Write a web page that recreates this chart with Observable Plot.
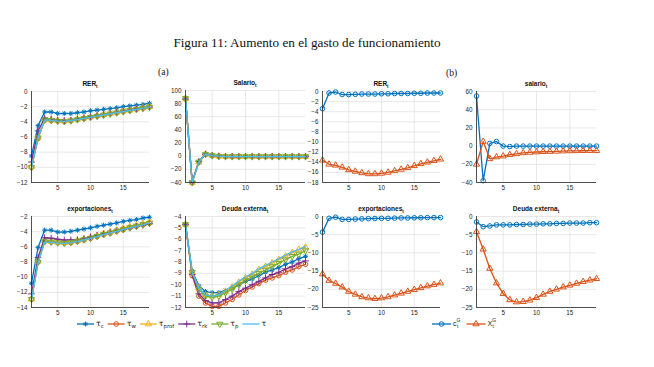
<!DOCTYPE html>
<html><head><meta charset="utf-8">
<script src="https://cdn.jsdelivr.net/npm/d3@7"></script>
<script src="https://cdn.jsdelivr.net/npm/@observablehq/plot@0.6"></script>
<style>
body{margin:0;background:#fff;}
#page{position:relative;width:654px;height:367px;background:#fff;overflow:hidden;font-family:"Liberation Sans",Arial,sans-serif;}
#page svg{position:absolute;}
</style></head><body><div id="page"></div>
<script>
// ---------- data ----------
const periods = [1,2,3,4,5,6,7,8,9,10,11,12,13,14,15,16,17,18,19];
const xTicks = [5,10,15];

// panel (a) series: tau_c, tau_w, tau_prof, tau_rk, tau_p, tau
const seriesA = ["τc","τw","τprof","τrk","τp","τ"];
const subA = ["c","w","prof","rk","p",""];
const colorsA = ["#0072BD","#D95319","#EDB120","#7E2F8E","#77AC30","#4DBEEE"];

const rerA_tc   = [-8.5,-4.5,-2.7,-2.7,-2.9,-2.9,-2.9,-2.8,-2.7,-2.55,-2.45,-2.35,-2.25,-2.15,-2.0,-1.9,-1.8,-1.7,-1.55];
const rerA_tw   = [-10.0,-6.2,-3.8,-3.8,-3.9,-3.95,-3.85,-3.7,-3.55,-3.4,-3.25,-3.1,-2.95,-2.8,-2.65,-2.5,-2.35,-2.2,-2.05];
const rerA_tprof= [-9.9,-6.0,-3.7,-3.75,-3.85,-3.9,-3.8,-3.65,-3.5,-3.35,-3.2,-3.05,-2.9,-2.75,-2.6,-2.45,-2.3,-2.15,-2.0];
const rerA_trk  = [-9.3,-5.2,-3.5,-3.6,-3.75,-3.85,-3.8,-3.65,-3.5,-3.35,-3.2,-3.05,-2.9,-2.75,-2.6,-2.45,-2.3,-2.2,-2.05];
const rerA_tp   = [-10.0,-6.1,-3.75,-3.8,-3.9,-3.95,-3.85,-3.7,-3.55,-3.4,-3.25,-3.1,-2.95,-2.8,-2.65,-2.5,-2.35,-2.2,-2.05];
const rerA_t    = [-10.0,-6.1,-3.75,-3.8,-3.9,-3.95,-3.85,-3.7,-3.55,-3.4,-3.25,-3.1,-2.95,-2.8,-2.65,-2.5,-2.35,-2.2,-2.05];

const salA_tc   = [88,-39,-8,3,1,0,-0.5,-0.5,-0.5,-0.5,-0.5,-0.5,-0.5,-0.5,-0.5,-0.5,-0.5,-0.5,-0.5];
const salA_tw   = [87,-40,-9,3,1,0,-0.5,-0.5,-0.5,-0.5,-0.5,-0.5,-0.5,-0.5,-0.5,-0.5,-0.5,-0.5,-0.5];
const salA_tprof= [88,-40,-9,3,1,0,-0.5,-0.5,-0.5,-0.5,-0.5,-0.5,-0.5,-0.5,-0.5,-0.5,-0.5,-0.5,-0.5];
const salA_trk  = [87,-39,-8,3,1,0,-0.5,-0.5,-0.5,-0.5,-0.5,-0.5,-0.5,-0.5,-0.5,-0.5,-0.5,-0.5,-0.5];
const salA_tp   = [88,-40,-9,3,1,0,-0.5,-0.5,-0.5,-0.5,-0.5,-0.5,-0.5,-0.5,-0.5,-0.5,-0.5,-0.5,-0.5];
const salA_t    = [88,-40,-9,3,1,0,-0.5,-0.5,-0.5,-0.5,-0.5,-0.5,-0.5,-0.5,-0.5,-0.5,-0.5,-0.5,-0.5];

const expA_tc   = [-10.8,-6.1,-3.8,-3.8,-4.05,-4.05,-3.95,-3.8,-3.65,-3.5,-3.3,-3.15,-3.0,-2.85,-2.65,-2.5,-2.4,-2.2,-2.1];
const expA_tw   = [-12.9,-8.0,-5.3,-5.35,-5.45,-5.5,-5.45,-5.3,-5.1,-4.9,-4.65,-4.4,-4.2,-3.95,-3.75,-3.5,-3.3,-3.1,-2.9];
const expA_tprof= [-12.9,-7.9,-5.2,-5.3,-5.4,-5.45,-5.35,-5.2,-5.0,-4.75,-4.5,-4.25,-4.0,-3.8,-3.55,-3.35,-3.15,-2.95,-2.75];
const expA_trk  = [-12.2,-7.4,-4.8,-4.85,-5.0,-5.1,-5.1,-5.05,-4.9,-4.7,-4.5,-4.3,-4.1,-3.9,-3.7,-3.5,-3.3,-3.15,-2.95];
const expA_tp   = [-12.9,-8.0,-5.3,-5.35,-5.45,-5.5,-5.4,-5.25,-5.05,-4.85,-4.6,-4.35,-4.15,-3.9,-3.7,-3.45,-3.25,-3.05,-2.85];
const expA_t    = [-13.0,-8.1,-5.4,-5.4,-5.5,-5.55,-5.45,-5.3,-5.1,-4.9,-4.65,-4.4,-4.15,-3.95,-3.7,-3.5,-3.3,-3.1,-2.85];

const deuA_tc   = [-4.7,-8.8,-10.1,-10.6,-10.7,-10.7,-10.5,-10.3,-10.0,-9.7,-9.5,-9.2,-8.9,-8.7,-8.5,-8.2,-8.0,-7.7,-7.5];
const deuA_tw   = [-4.7,-9.2,-11.0,-11.6,-11.9,-11.9,-11.6,-11.3,-10.9,-10.5,-10.2,-9.9,-9.6,-9.4,-9.2,-8.9,-8.7,-8.4,-8.2];
const deuA_tprof= [-4.7,-8.9,-10.3,-10.9,-11.0,-10.9,-10.6,-10.2,-9.8,-9.4,-9.1,-8.7,-8.4,-8.1,-7.8,-7.5,-7.2,-6.9,-6.7];
const deuA_trk  = [-4.7,-9.1,-10.8,-11.4,-11.6,-11.6,-11.3,-11.0,-10.6,-10.3,-10.0,-9.7,-9.4,-9.1,-8.9,-8.6,-8.4,-8.1,-7.9];
const deuA_tp   = [-4.7,-8.9,-10.4,-11.0,-11.1,-11.0,-10.7,-10.4,-10.0,-9.6,-9.3,-9.0,-8.7,-8.4,-8.1,-7.8,-7.5,-7.3,-7.0];
const deuA_t    = [-4.7,-8.9,-10.3,-10.9,-11.0,-10.9,-10.5,-10.1,-9.7,-9.3,-9.0,-8.6,-8.3,-8.0,-7.7,-7.4,-7.1,-6.9,-6.6];

// panel (b) series: c^G, X^G
const seriesB = ["c","X"];
const colorsB = ["#0072BD","#D95319"];

const rerB_c = [-3.4,-0.3,-0.1,-0.6,-0.6,-0.55,-0.5,-0.5,-0.5,-0.45,-0.45,-0.4,-0.4,-0.4,-0.35,-0.35,-0.3,-0.3,-0.3];
const rerB_X = [-13.6,-14.4,-14.6,-15.0,-15.5,-15.8,-16.1,-16.3,-16.3,-16.2,-16.0,-15.7,-15.4,-15.1,-14.7,-14.3,-14.0,-13.7,-13.4];

const salB_c = [55,-38,3,5,0,-0.5,0,0,0,0,0,0,0,0,0,0,0,0,0];
const salB_X = [-20,5,-14,-12,-11,-9.5,-8.5,-7.5,-7,-6.5,-6.2,-6,-5.8,-5.5,-5.3,-5.2,-5.1,-5,-5];

const expB_c = [-4.3,-0.5,-0.2,-0.8,-0.8,-0.7,-0.65,-0.6,-0.55,-0.5,-0.5,-0.45,-0.4,-0.4,-0.35,-0.35,-0.3,-0.3,-0.3];
const expB_X = [-15.8,-17.6,-18.4,-19.4,-20.6,-21.4,-22.1,-22.4,-22.6,-22.4,-22.1,-21.6,-21.1,-20.6,-20.1,-19.6,-19.1,-18.7,-18.3];

const deuB_c = [-1.5,-2.8,-2.6,-2.3,-2.3,-2.3,-2.2,-2.2,-2.1,-2.1,-2.0,-2.0,-1.9,-1.9,-1.8,-1.8,-1.8,-1.7,-1.7];
const deuB_X = [-4.2,-9.0,-14.3,-18.3,-21.2,-22.9,-23.5,-23.4,-23.0,-22.3,-21.4,-20.6,-20.0,-19.4,-18.9,-18.4,-17.9,-17.5,-17.1];

// ---------- symbols ----------
const sqrt3 = Math.sqrt(3);
const symAsterisk = {draw(ctx, size){ const r = Math.sqrt(size)*0.62, d = r*0.7071;
  ctx.moveTo(-r,0); ctx.lineTo(r,0); ctx.moveTo(0,-r); ctx.lineTo(0,r);
  ctx.moveTo(-d,-d); ctx.lineTo(d,d); ctx.moveTo(-d,d); ctx.lineTo(d,-d);}};
const symTriDown = {draw(ctx, size){ const y = -Math.sqrt(size/(sqrt3*3));
  ctx.moveTo(0,-y*2); ctx.lineTo(-sqrt3*y, y); ctx.lineTo(sqrt3*y, y); ctx.closePath();}};
const symbolsA = [symAsterisk, d3.symbolCircle, d3.symbolTriangle, d3.symbolPlus, symTriDown, null];
const symbolsB = [d3.symbolCircle, d3.symbolTriangle];

// ---------- layout ----------
const page = document.getElementById("page");
const R = 2.3;

function panel(cfg){
  const mL=26, mR=4, mT=14, mB=12;
  const w = cfg.x1-cfg.x0, h = cfg.y1-cfg.y0;
  const marks = [
    Plot.gridX(xTicks, {stroke:"#dedede", strokeOpacity:1, strokeWidth:0.7}),
    Plot.gridY(cfg.yTicks, {stroke:"#dedede", strokeOpacity:1, strokeWidth:0.7}),
    Plot.axisX({ticks:xTicks, tickSize:0, tickPadding:3, fill:"#262626", fontSize:6.3, label:null}),
    Plot.axisY({ticks:cfg.yTicks, tickSize:0, tickPadding:4, fill:"#262626", fontSize:6.3, label:null}),
  ];
  cfg.series.forEach((vals,i)=>{
    marks.push(Plot.lineY(vals, {x: periods, stroke: cfg.colors[i], strokeWidth: 1.3}));
    if (cfg.symbols[i]) marks.push(Plot.dot(vals, {x: periods, y: d=>d, symbol: cfg.symbols[i], r: R,
      stroke: cfg.colors[i], fill: "none", strokeWidth: 1}));
  });
  marks.push(Plot.ruleX([1], {stroke:"#262626", strokeWidth:0.8}));
  marks.push(Plot.ruleY([cfg.yDomain[0]], {stroke:"#262626", strokeWidth:0.8}));
  const svg = Plot.plot({
    width: w+mL+mR, height: h+mT+mB,
    marginLeft: mL, marginRight: mR, marginTop: mT, marginBottom: mB,
    x: {domain:[1,19], label:null}, y: {domain: cfg.yDomain, label:null},
    style: {fontFamily:"Liberation Sans, Arial, sans-serif", background:"transparent", overflow:"visible"},
    marks
  });
  svg.style.left = (cfg.x0-mL)+"px";
  svg.style.top = (cfg.y0-mT)+"px";
  const t = d3.select(svg).append("text").attr("x", mL+w/2).attr("y", mT-5)
    .attr("text-anchor","middle").attr("font-weight","bold").attr("font-size",6.5)
    .attr("fill","#111").attr("font-family","Liberation Sans, Arial, sans-serif");
  t.append("tspan").text(cfg.title);
  t.append("tspan").attr("dy",1.8).attr("font-size",4.5).text("t");
  page.appendChild(svg);
}

const colTicks = {
  rerA:[-12,-10,-8,-6,-4,-2,0], salA:[-40,-20,0,20,40,60,80,100],
  expA:[-14,-12,-10,-8,-6,-4,-2], deuA:[-12,-11,-10,-9,-8,-7,-6,-5,-4],
  rerB:[-18,-16,-14,-12,-10,-8,-6,-4,-2,0], salB:[-40,-20,0,20,40,60],
  expB:[-25,-20,-15,-10,-5,0], deuB:[-25,-20,-15,-10,-5,0]
};

panel({x0:31,x1:149,y0:91,y1:182,yDomain:[-12,0],yTicks:colTicks.rerA,title:"RER",
  series:[rerA_tc,rerA_tw,rerA_tprof,rerA_trk,rerA_tp,rerA_t],colors:colorsA,symbols:symbolsA});
panel({x0:185,x1:305,y0:90,y1:182,yDomain:[-40,100],yTicks:colTicks.salA,title:"Salario",
  series:[salA_tc,salA_tw,salA_tprof,salA_trk,salA_tp,salA_t],colors:colorsA,symbols:symbolsA});
panel({x0:31,x1:149,y0:216,y1:307,yDomain:[-14,-2],yTicks:colTicks.expA,title:"exportaciones",
  series:[expA_tc,expA_tw,expA_tprof,expA_trk,expA_tp,expA_t],colors:colorsA,symbols:symbolsA});
panel({x0:185,x1:305,y0:216,y1:307,yDomain:[-12,-4],yTicks:colTicks.deuA,title:"Deuda externa",
  series:[deuA_tc,deuA_tw,deuA_tprof,deuA_trk,deuA_tp,deuA_t],colors:colorsA,symbols:symbolsA});
panel({x0:322,x1:440,y0:91,y1:182,yDomain:[-18,0],yTicks:colTicks.rerB,title:"RER",
  series:[rerB_c,rerB_X],colors:colorsB,symbols:symbolsB});
panel({x0:476,x1:596,y0:91,y1:182,yDomain:[-40,60],yTicks:colTicks.salB,title:"salario",
  series:[salB_c,salB_X],colors:colorsB,symbols:symbolsB});
panel({x0:322,x1:440,y0:216,y1:307,yDomain:[-25,0],yTicks:colTicks.expB,title:"exportaciones",
  series:[expB_c,expB_X],colors:colorsB,symbols:symbolsB});
panel({x0:476,x1:596,y0:216,y1:307,yDomain:[-25,0],yTicks:colTicks.deuB,title:"Deuda externa",
  series:[deuB_c,deuB_X],colors:colorsB,symbols:symbolsB});

// ---------- page texts & legends ----------
const overlay = d3.select(page).append("svg").attr("width",654).attr("height",367).style("left","0px").style("top","0px");
overlay.append("text").attr("x",307).attr("y",47).attr("text-anchor","middle")
  .attr("font-family","Liberation Serif, DejaVu Serif, serif").attr("font-size",13.2).attr("fill","#111")
  .text("Figura 11: Aumento en el gasto de funcionamiento");
overlay.append("text").attr("x",158).attr("y",75).attr("font-family","Liberation Serif, serif").attr("font-size",9.5).attr("fill","#111").text("(a)");
overlay.append("text").attr("x",446).attr("y",76).attr("font-family","Liberation Serif, serif").attr("font-size",9.5).attr("fill","#111").text("(b)");

function legendItem(g, x, y, color, sym, lineLen){
  g.append("line").attr("x1",x).attr("x2",x+lineLen).attr("y1",y).attr("y2",y).attr("stroke",color).attr("stroke-width",1.3);
  if (sym) g.append("path").attr("d", d3.symbol().type(sym).size(R*R*Math.PI)())
    .attr("transform",`translate(${x+lineLen/2},${y})`).attr("fill","none").attr("stroke",color).attr("stroke-width",1);
}
// legend (a)
let lx = 77; const ly = 324;
seriesA.forEach((name,i)=>{
  legendItem(overlay, lx, ly, colorsA[i], symbolsA[i], 17);
  const t = overlay.append("text").attr("x", lx+19).attr("y", ly+1.5).attr("font-size",7.8).attr("fill","#222")
    .attr("font-family","DejaVu Sans, sans-serif");
  t.append("tspan").text("τ");
  if (subA[i]) t.append("tspan").attr("dy",2).attr("font-size",5.4).text(subA[i]);
  lx += 19 + t.node().getComputedTextLength() + 4;
});
// legend (b)
let bx = 432;
seriesB.forEach((nm,i)=>{
  legendItem(overlay, bx, ly, colorsB[i], symbolsB[i], 19);
  const t = overlay.append("text").attr("x", bx+21).attr("y", ly+1.5).attr("font-size",7.2).attr("fill","#222")
    .attr("font-family","Liberation Sans, sans-serif");
  t.append("tspan").text(nm);
  const base = t.node().getComputedTextLength();
  t.append("tspan").attr("dy",-3.5).attr("font-size",5).text("G");
  overlay.append("text").attr("x", bx+21+base+0.3).attr("y", ly+3.5).attr("font-size",5).attr("fill","#222")
    .attr("font-family","Liberation Sans, sans-serif").text("t");
  bx += 21 + t.node().getComputedTextLength() + 6;
});
</script></body></html>
